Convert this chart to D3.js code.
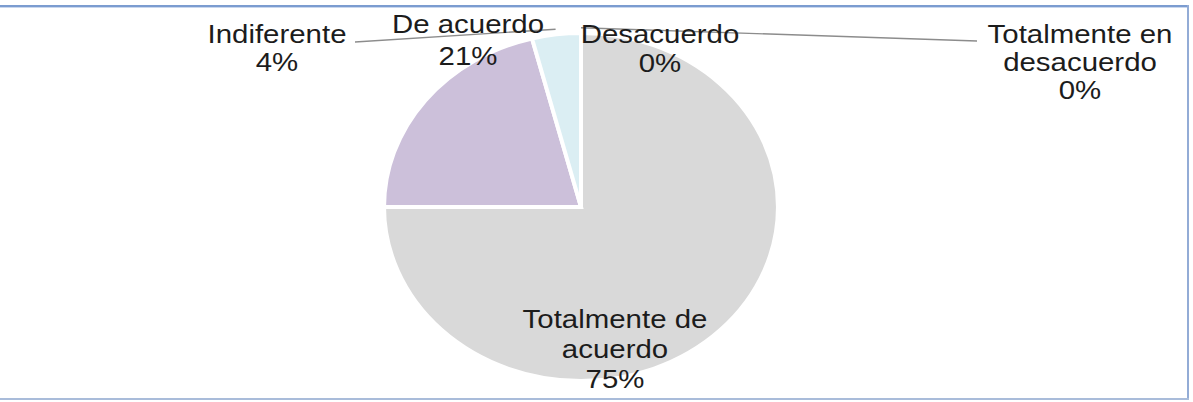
<!DOCTYPE html>
<html lang="es">
  <head>
    <meta charset="utf-8">
    <title>Pie</title>
    <script src="https://cdn.jsdelivr.net/npm/d3@7"></script>
    <style>
      body { margin: 0; background: #fff; }
      text { font-family: "Liberation Sans", Arial, sans-serif; fill: #1c1c1c; }
    </style>
  </head>
  <body>
    <script>

      // data
      var categories = ["Totalmente de acuerdo", "De acuerdo", "Indiferente", "Desacuerdo", "Totalmente en desacuerdo"];
      var values = [75, 21, 4, 0, 0];
      var wrapped = [["Totalmente de", "acuerdo"], ["De acuerdo"], ["Indiferente"], ["Desacuerdo"], ["Totalmente en", "desacuerdo"]];
      var colors = ["#d9d9d9", "#ccc0da", "#dbeef3", "#c3d69b", "#fac090"];

      // layout
      var W = 1193, H = 402;
      var cx = 581, cy = 207, r = 174, sx = 1.132;
      var labelPos = [
        {x: 615, y: 328, step: 30},
        {x: 468, y: 33, step: 32},
        {x: 277, y: 43, step: 28},
        {x: 660, y: 43, step: 29},
        {x: 1080, y: 43, step: 28}
      ];
      // where leader lines end (label side), only for the ones that have one
      var leaderEnd = {2: [355, 42], 4: [977, 41]};

      var svg = d3.select("body").append("svg")
                  .attr("width", W)
                  .attr("height", H);

      // frame
      svg.append("rect").attr("x", 0).attr("y", 5).attr("width", 1189).attr("height", 2).style("fill", "#7b9cd0");
      svg.append("rect").attr("x", 0).attr("y", 7).attr("width", 1189).attr("height", 1).style("fill", "#c9d7ee");
      svg.append("rect").attr("x", 1187).attr("y", 5).attr("width", 2).attr("height", 395).style("fill", "#93acd6");
      svg.append("rect").attr("x", 0).attr("y", 398).attr("width", 1189).attr("height", 2).style("fill", "#a9bcda");

      var pie = d3.pie().sort(null).value(function(d) { return d; });
      var arcs = pie(values);
      var arc = d3.arc().innerRadius(0).outerRadius(r);
      var outer = d3.arc().innerRadius(r * 1.03).outerRadius(r * 1.03);

      var g = svg.append("g")
                 .attr("transform", "translate(" + cx + "," + cy + ") scale(" + sx + ",1)");

      g.selectAll("path")
       .data(arcs)
       .enter().append("path")
       .attr("d", arc)
       .style("fill", function(d, i) { return colors[i]; })
       .style("stroke", "#fff")
       .style("stroke-width", 4)
       .attr("vector-effect", "non-scaling-stroke");

      // leader lines
      Object.keys(leaderEnd).forEach(function(k) {
        var a = arcs[k];
        var ang = (a.startAngle + a.endAngle) / 2;
        var px = cx + sx * Math.sin(ang) * r * 1.03;
        var py = cy - Math.cos(ang) * r * 1.03;
        svg.append("line")
           .attr("x1", px).attr("y1", py)
           .attr("x2", leaderEnd[k][0]).attr("y2", leaderEnd[k][1])
           .style("stroke", "#8c8c8c")
           .style("stroke-width", 1.4);
      });

      // labels
      categories.forEach(function(c, i) {
        var lines = wrapped[i].concat([values[i] + "%"]);
        var p = labelPos[i];
        lines.forEach(function(t, j) {
          svg.append("text")
             .attr("transform", "translate(" + p.x + "," + (p.y + j * p.step) + ") scale(" + sx + ",1)")
             .attr("text-anchor", "middle")
             .style("font-size", "26px")
             .text(t);
        });
      });

    </script>
  </body>
</html>
